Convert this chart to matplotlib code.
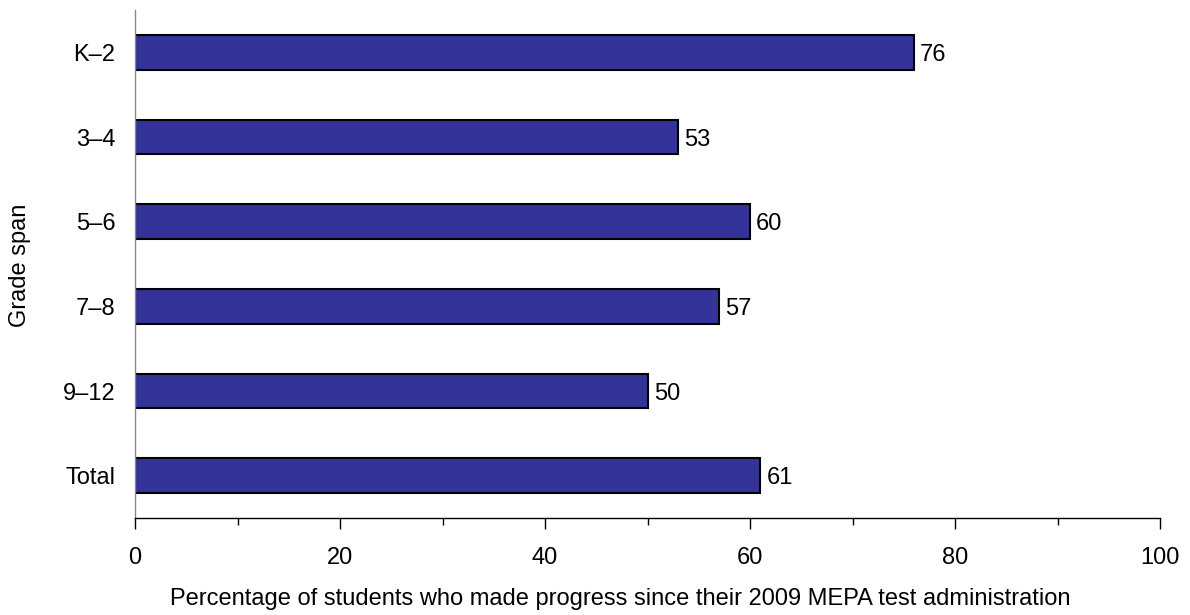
import matplotlib
matplotlib.use("Agg")
import matplotlib.pyplot as plt
from matplotlib.ticker import MultipleLocator

categories = ["K\u20132", "3\u20134", "5\u20136", "7\u20138", "9\u201312", "Total"]
values = [76, 53, 60, 57, 50, 61]

plt.rcParams['font.family'] = ['Liberation Sans', 'DejaVu Sans']
FS = 17
W, H = 1190, 615

fig = plt.figure(figsize=(W/100, H/100), dpi=100)
ax = fig.add_axes([135/W, (H-518)/H, (1160-135)/W, (518-10)/H])

pos = list(range(len(categories)))
ax.barh(pos, values, height=0.41, color="#333399", edgecolor="black", linewidth=1.5)
for p, v in zip(pos, values):
    ax.text(v + 0.6, p, f"{v}", va="center_baseline", ha="left", fontsize=FS)

ax.set_ylim(len(categories) - 0.5, -0.5)
ax.set_xlim(0, 100)
ax.set_yticks(pos)
ax.set_yticklabels(categories, fontsize=FS, va="center_baseline")
ax.tick_params(axis="y", length=0, pad=14)
ax.xaxis.set_major_locator(MultipleLocator(20))
ax.xaxis.set_minor_locator(MultipleLocator(10))
ax.tick_params(axis="x", which="major", length=8, width=1, labelsize=FS, pad=13)
ax.tick_params(axis="x", which="minor", length=5, width=1)

for s in ["top", "right"]:
    ax.spines[s].set_visible(False)
ax.spines["left"].set_color("#888888")
ax.spines["left"].set_linewidth(1)
ax.spines["bottom"].set_color("black")
ax.spines["bottom"].set_linewidth(1)

fig.text(620/W, (H-605)/H,
         "Percentage of students who made progress since their 2009 MEPA test administration",
         fontsize=FS, ha="center", va="baseline")
fig.text(20/W, (H-265)/H, "Grade span", fontsize=FS, rotation=90, ha="center", va="center")

fig.savefig("out.png", dpi=100)
